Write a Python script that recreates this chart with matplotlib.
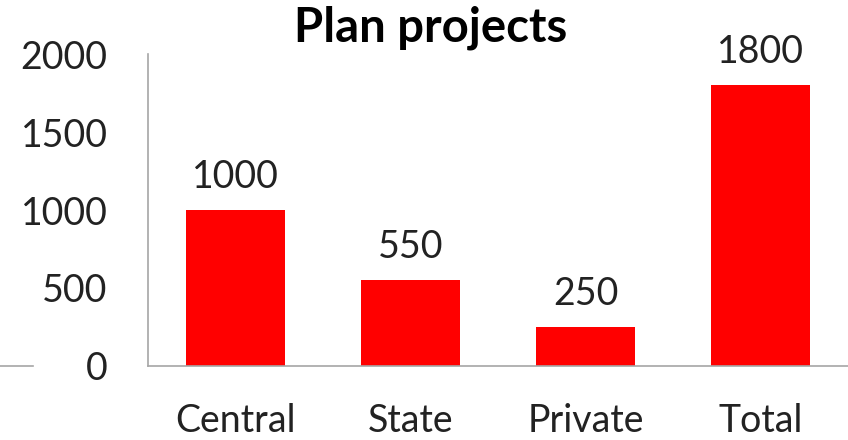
import matplotlib
matplotlib.use('Agg')
import matplotlib.pyplot as plt
from matplotlib.lines import Line2D

categories = ['Central', 'State', 'Private', 'Total']
projects = [1000, 550, 250, 1800]
y_ticks = [0, 500, 1000, 1500, 2000]

RED = '#FF0000'
GREY = '#A6A6A6'
plt.rcParams['font.family'] = ['Lato', 'DejaVu Sans']

W, H = 848, 440
fig = plt.figure(figsize=(W / 100, H / 100), dpi=100)
ax = fig.add_axes([148 / W, 1 - 366 / H, 700 / W, (366 - 54) / H])

x = range(len(categories))
ax.bar(x, projects, width=0.57, color=RED, zorder=2)
for xi, v in zip(x, projects):
    ax.annotate(f'{v}', (xi, v), xytext=(0, 16), textcoords='offset points',
                ha='center', va='baseline', fontsize=27, color='#222222')

ax.set_xlim(-0.5, 3.5)
ax.set_ylim(0, 2000)
ax.set_yticks(y_ticks)
ax.set_xticks(list(x))
ax.set_xticklabels(categories)
ax.tick_params(axis='y', length=0, pad=29, labelsize=27, labelcolor='#222222')
ax.tick_params(axis='x', length=0, pad=27, labelsize=27, labelcolor='#222222')
for s in ('top', 'right'):
    ax.spines[s].set_visible(False)
for s in ('left', 'bottom'):
    ax.spines[s].set_color(GREY)
    ax.spines[s].set_linewidth(1.2)

# stray stub of the category axis at the far left
fig.add_artist(Line2D([0, 33 / W], [1 - 366 / H] * 2, color=GREY, lw=1.2))

fig.text(431 / W, 1 - 28 / H, 'Plan projects', ha='center', va='center',
         fontsize=34, fontweight='bold', color='black')

fig.savefig('out.png', dpi=100, facecolor='white')
